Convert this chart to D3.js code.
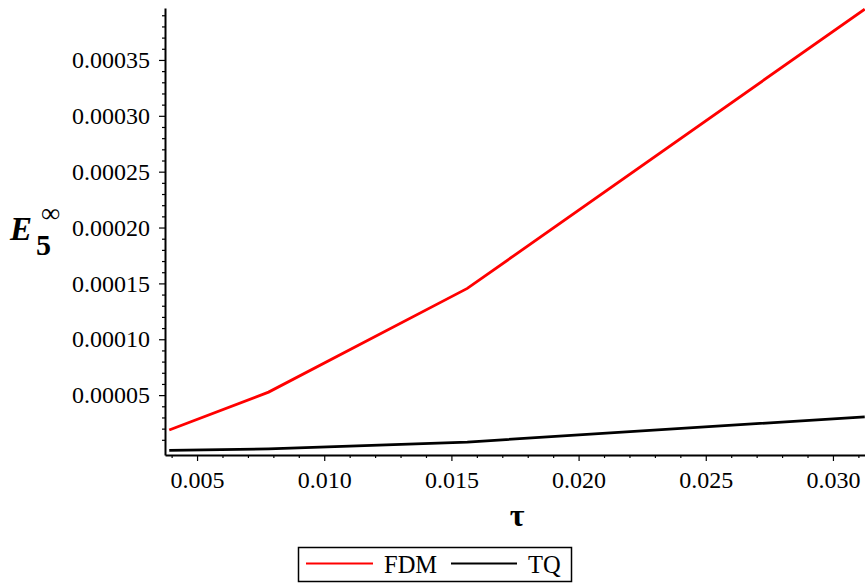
<!DOCTYPE html>
<html>
<head>
<meta charset="utf-8">
<script src="https://cdn.jsdelivr.net/npm/d3@7"></script>
<style>
  body { margin: 0; background: #fff; }
  svg { display: block; }
  text { font-family: "Liberation Serif", "Times New Roman", serif; }
</style>
</head>
<body>
<div id="chart"></div>
<script>
// tau = 1/256, 1/128, 1/64, 1/32
var tauValues = [0.00390625, 0.0078125, 0.015625, 0.03125];
var fdmValues = [0.0000188, 0.0000527, 0.0001455, 0.0003955];
var tqValues = [0.0000006, 0.0000019, 0.0000080, 0.0000306];
var xTickValues = [0.005, 0.010, 0.015, 0.020, 0.025, 0.030];
var yTickValues = [0.00005, 0.00010, 0.00015, 0.00020, 0.00025, 0.00030, 0.00035];
var seriesNames = ["FDM", "TQ"];
var seriesColors = ["#ff0000", "#000000"];

var width = 865, height = 583;

var svg = d3.select("#chart").append("svg")
	.attr("width", width)
	.attr("height", height);

var x = d3.scaleLinear()
	.domain([0.00374, 0.03126])
	.range([165, 865]);

var y = d3.scaleLinear()
	.domain([-0.0000036, 0.0003965])
	.range([455, 8]);

// minor ticks
var xMinor = d3.range(4, 32).map(d => d / 1000).filter(d => xTickValues.indexOf(d) < 0 && d >= x.domain()[0]);
var yMinor = d3.range(1, 40).map(d => d / 100000).filter(d => d % 0.00005 > 1e-9 && 0.00005 - (d % 0.00005) > 1e-9);

svg.append("g")
	.attr("transform", "translate(0,455)")
	.call(d3.axisBottom(x).tickValues(xMinor).tickSize(3).tickFormat(""))
	.call(g => g.select(".domain").remove())
	.selectAll("line").attr("stroke-width", 1.2);

svg.append("g")
	.attr("transform", "translate(165,0)")
	.call(d3.axisLeft(y).tickValues(yMinor).tickSize(3).tickFormat(""))
	.call(g => g.select(".domain").remove())
	.selectAll("line").attr("stroke-width", 1.2);

var xAxis = svg.append("g")
	.attr("transform", "translate(0,455)")
	.call(d3.axisBottom(x).tickValues(xTickValues).tickSize(6).tickSizeOuter(0).tickPadding(10).tickFormat(d3.format(".3f")));
xAxis.attr("font-family", null).attr("font-size", null);
xAxis.select(".domain").attr("stroke-width", 2);
xAxis.selectAll("line").attr("stroke-width", 1.2);
xAxis.selectAll("text")
	.style("font-size", "24px")
	.attr("fill", "#000");

var yAxis = svg.append("g")
	.attr("transform", "translate(165,0)")
	.call(d3.axisLeft(y).tickValues(yTickValues).tickSize(6).tickSizeOuter(0).tickPadding(9).tickFormat(d3.format(".5f")));
yAxis.attr("font-family", null).attr("font-size", null);
yAxis.select(".domain").attr("stroke-width", 2);
yAxis.selectAll("line").attr("stroke-width", 1.2);
yAxis.selectAll("text")
	.style("font-size", "24px")
	.attr("fill", "#000");

// data lines
var line = d3.line()
	.x(d => x(d[0]))
	.y(d => y(d[1]));

[tqValues, fdmValues].forEach(function (vals, i) {
	var idx = i === 0 ? 1 : 0;
	svg.append("path")
		.datum(tauValues.map((t, j) => [t, vals[j]]))
		.attr("fill", "none")
		.attr("stroke", seriesColors[idx])
		.attr("stroke-width", 2.8)
		.attr("d", line);
});

// axis labels
svg.append("text")
	.attr("x", 517)
	.attr("y", 526)
	.attr("text-anchor", "middle")
	.style("font-weight", "bold")
	.style("font-size", "32px")
	.text("τ");

var ylab = svg.append("text")
	.attr("x", 10)
	.attr("y", 240)
	.style("font-weight", "bold")
	.style("font-size", "33px");
ylab.append("tspan").style("font-style", "italic").text("E");
ylab.append("tspan").attr("x", 36).attr("y", 255).style("font-size", "30px").text("5");
ylab.append("tspan").attr("x", 41).attr("y", 222).style("font-size", "27px").style("font-weight", "normal").text("∞");

// legend
var legend = svg.append("g");
legend.append("rect")
	.attr("x", 298.5)
	.attr("y", 547.5)
	.attr("width", 273)
	.attr("height", 34)
	.attr("fill", "#fff")
	.attr("stroke", "#000")
	.attr("stroke-width", 1.5);

var legendItems = [
	{name: seriesNames[0], color: seriesColors[0], x1: 306, x2: 373, tx: 384},
	{name: seriesNames[1], color: seriesColors[1], x1: 451, x2: 517, tx: 528}
];
legendItems.forEach(function (d) {
	legend.append("line")
		.attr("x1", d.x1).attr("x2", d.x2)
		.attr("y1", 563.5).attr("y2", 563.5)
		.attr("stroke", d.color)
		.attr("stroke-width", 2);
	legend.append("text")
		.attr("x", d.tx)
		.attr("y", 573)
		.style("font-size", "24.5px")
		.text(d.name);
});
</script>
</body>
</html>
